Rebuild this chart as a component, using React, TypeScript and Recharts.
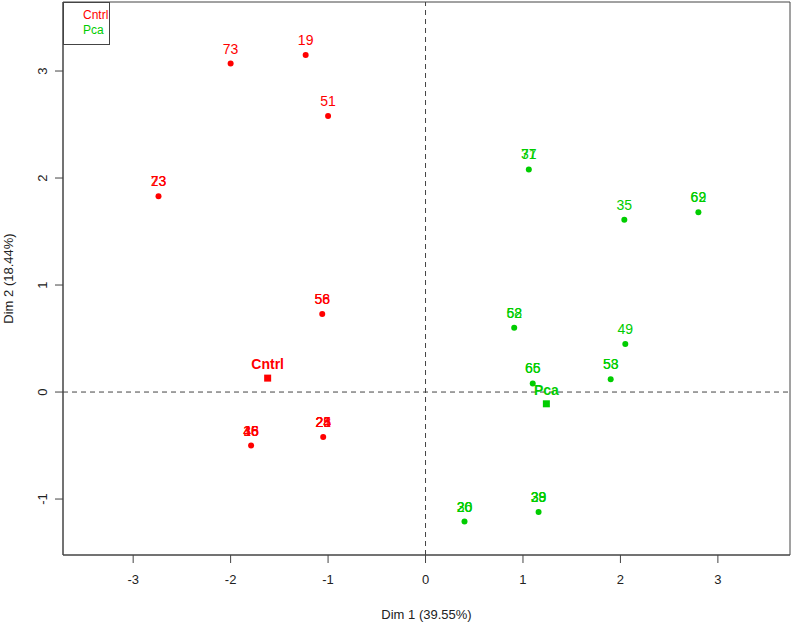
import { ScatterChart, Scatter, XAxis, YAxis, ReferenceLine, ReferenceArea } from "recharts";

// individuals, Cntrl group
const cntrlX = [-2.0, -1.23, -1.0, -2.74, -1.06, -1.79, -1.05];
const cntrlY = [3.07, 3.15, 2.58, 1.83, 0.73, -0.5, -0.42];
const cntrlLabels = [["73"], ["19"], ["51"], ["23", "73"], ["56", "58"], ["16", "36", "45", "48"], ["24", "28", "21", "25"]];

// individuals, Pca group
const pcaX = [1.06, 2.04, 2.8, 0.91, 2.05, 1.9, 1.1, 0.4, 1.16];
const pcaY = [2.08, 1.61, 1.68, 0.6, 0.45, 0.12, 0.08, -1.21, -1.12];
const pcaLabels = [["37", "71"], ["35"], ["69", "62"], ["68", "52"], ["49"], ["53", "58"], ["66", "65"], ["26", "20", "30"], ["38", "29", "39"]];

// group centres (supplementary)
const groupNames = ["Cntrl", "Pca"];
const groupX = [-1.62, 1.24];
const groupY = [0.13, -0.11];

const xTicks = [-3, -2, -1, 0, 1, 2, 3];
const yTicks = [-1, 0, 1, 2, 3];

const RED = "#FF0000";
const GREEN = "#00CD00";
const FONT = "'Liberation Sans', Arial, sans-serif";

const build = (xs: number[], ys: number[], labels: string[][]) =>
    xs.map((x, i) => ({ x, y: ys[i], labels: labels[i] }));

const cntrlData = build(cntrlX, cntrlY, cntrlLabels);
const pcaData = build(pcaX, pcaY, pcaLabels);
const groupData = groupNames.map((name, i) => ({ x: groupX[i], y: groupY[i], name }));

const makeDot = (color: string) => (props: any) => {
    const { cx, cy, payload } = props;
    return (
        <g>
            <circle cx={cx} cy={cy} r={3} fill={color} />
            {payload.labels.map((l: string) => (
                <text key={l} x={cx} y={cy - 10} textAnchor="middle" fill={color} fontSize={14} fontFamily={FONT}>
                    {l}
                </text>
            ))}
        </g>
    );
};

const GroupShape = (props: any) => {
    const { cx, cy, payload } = props;
    const color = payload.name === "Cntrl" ? RED : GREEN;
    return (
        <g>
            <rect x={cx - 3.5} y={cy - 3.5} width={7} height={7} fill={color} />
            <text x={cx} y={cy - 9} textAnchor="middle" fill={color} fontSize={14} fontWeight="bold" fontFamily={FONT}>
                {payload.name}
            </text>
        </g>
    );
};

const YTick = ({ x, y, payload }: any) => (
    <text x={x} y={y} dy="0.35em" transform={`rotate(-90 ${x} ${y})`} textAnchor="middle" fill="#222" fontSize={13} fontFamily={FONT}>
        {payload.value}
    </text>
);

export default function App() {
    return (
        <div style={{ position: "absolute", left: 0, top: 0, width: 796, height: 627, background: "#fff" }}>
            <ScatterChart width={796} height={627} margin={{ top: 2, right: 6, bottom: 0, left: 0 }}>
                <XAxis
                    type="number"
                    dataKey="x"
                    domain={[-3.72, 3.74]}
                    ticks={xTicks}
                    allowDataOverflow
                    height={72}
                    stroke="#444"
                    tickSize={8}
                    tickMargin={12}
                    tick={{ fill: "#222", fontSize: 13, fontFamily: FONT }}
                    label={{ value: "Dim 1 (39.55%)", position: "insideBottom", offset: 8, fill: "#222", fontSize: 13, fontFamily: FONT }}
                />
                <YAxis
                    type="number"
                    dataKey="y"
                    domain={[-1.523, 3.645]}
                    ticks={yTicks}
                    allowDataOverflow
                    width={63}
                    stroke="#444"
                    tickSize={8}
                    tickMargin={13}
                    tick={<YTick />}
                    label={{ value: "Dim 2 (18.44%)", angle: -90, position: "insideLeft", offset: 8, fill: "#222", fontSize: 13, fontFamily: FONT, style: { textAnchor: "middle" } }}
                />
                <ReferenceArea x1={-3.72} x2={3.74} y1={-1.523} y2={3.645} fill="none" stroke="#444" strokeWidth={1} />
                <ReferenceLine x={0} stroke="#444" strokeDasharray="5 4" />
                <ReferenceLine y={0} stroke="#444" strokeDasharray="5 4" />
                <Scatter name="Cntrl" data={cntrlData} fill={RED} shape={makeDot(RED)} isAnimationActive={false} />
                <Scatter name="Pca" data={pcaData} fill={GREEN} shape={makeDot(GREEN)} isAnimationActive={false} />
                <Scatter name="groups" data={groupData} fill={RED} shape={GroupShape} isAnimationActive={false} />
            </ScatterChart>
            <div style={{ position: "absolute", left: 63, top: 2, width: 47, height: 43, border: "1px solid #444", background: "#fff", boxSizing: "border-box", fontFamily: FONT, fontSize: 12, lineHeight: "15px", paddingTop: 5, paddingLeft: 19 }}>
                <div style={{ color: RED }}>Cntrl</div>
                <div style={{ color: GREEN }}>Pca</div>
            </div>
        </div>
    );
}
